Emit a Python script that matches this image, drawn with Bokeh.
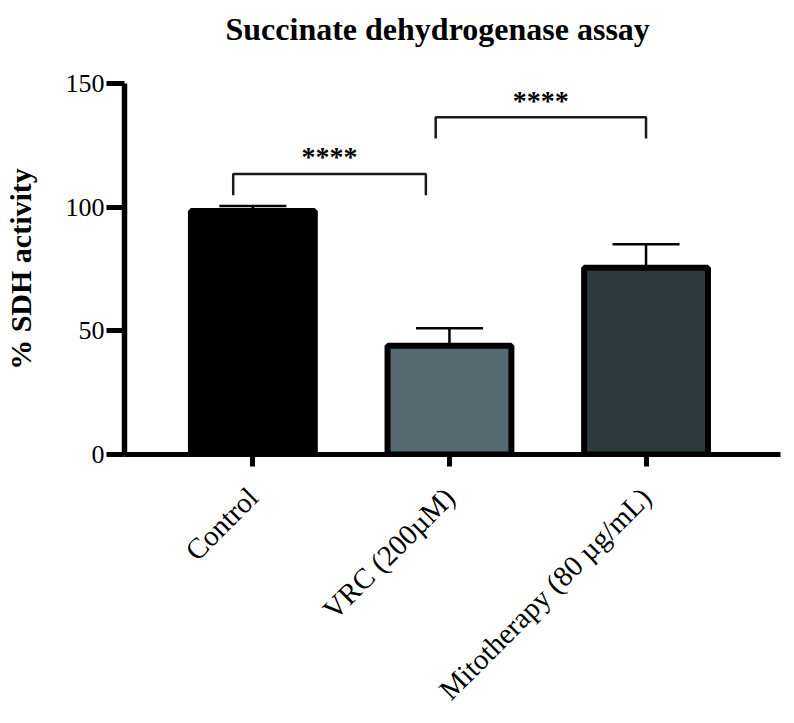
import math
from bokeh.plotting import figure
from bokeh.models import (ColumnDataSource, Range1d, FixedTicker, Whisker, TeeHead,
                          LinearAxis)
from bokeh.core.properties import value
from bokeh.embed import file_html
from bokeh.resources import INLINE

# ---- data ----
title_text = "Succinate dehydrogenase assay"
categories = ["Control", "VRC (200µM)", "Mitotherapy (80 µg/mL)"]
means = [98.5, 44.0, 75.5]
sems = [2.0, 7.0, 9.5]
bar_colors = ["#000000", "#566870", "#2e3b3c"]
y_ticks = [0, 50, 100, 150]

# significance brackets (data coordinates)
cmp_x0 = [-0.10, 0.93]
cmp_x1 = [0.88, 2.0]
cmp_top = [113.4, 136.4]
cmp_leg = [104.8, 127.8]
cmp_text = ["****", "****"]
cmp_text_y = [121.4, 144.0]

FONT = "Liberation Serif"

xs_idx = list(range(len(categories)))
src = ColumnDataSource(dict(
    x=xs_idx, mean=means, upper=[m + s for m, s in zip(means, sems)], color=bar_colors,
))

p = figure(width=794, height=723, output_backend="svg", toolbar_location=None,
           x_range=Range1d(-0.653, 2.684), y_range=Range1d(0, 150),
           min_border_left=121, min_border_right=14, min_border_top=83, min_border_bottom=269,
           title=title_text)
p.outline_line_color = None
p.grid.visible = False
p.background_fill_color = "white"

xa = p.below[0]
ya = p.left[0]

# invisible spacer between frame and title (pushes the title upward)
spacer = LinearAxis(ticker=FixedTicker(ticks=[xs_idx[0]]), axis_line_color=None,
                    major_tick_line_alpha=0, minor_tick_line_color=None,
                    major_tick_out=32, major_tick_in=0, minor_tick_out=0,
                    major_label_overrides={xs_idx[0]: ""}, major_label_standoff=0,
                    major_label_text_font_size="1px")
p.add_layout(spacer, "above")

p.title.text_font = FONT
p.title.text_font_size = "32px"
p.title.text_font_style = "bold"
p.title.align = "left"
p.title.offset = 101
p.title.standoff = 10
p.title.text_color = "black"

p.vbar(x="x", top="mean", width=0.63, bottom=0, fill_color="color",
       line_color="black", line_width=6, source=src)

wh = Whisker(base="x", lower="mean", upper="upper", source=src, dimension="height",
             line_color="black", line_width=2.5, lower_head=None,
             upper_head=TeeHead(size=67, line_color="black", line_width=2.5))
p.add_layout(wh)

bx = [[a, a, b, b] for a, b in zip(cmp_x0, cmp_x1)]
by = [[l, t, t, l] for t, l in zip(cmp_top, cmp_leg)]
p.multi_line(xs=bx, ys=by, line_color="#1a1a1a", line_width=2.5)
p.text(x=[(a + b) / 2 for a, b in zip(cmp_x0, cmp_x1)], y=cmp_text_y, text=cmp_text,
       text_font=value(FONT), text_font_style="bold", text_font_size="28px",
       text_align="center", text_baseline="middle", text_color="black", y_offset=2)

# x axis
xa.ticker = FixedTicker(ticks=xs_idx)
xa.major_label_overrides = {i: c for i, c in zip(xs_idx, categories)}
xa.axis_line_width = 5
xa.major_tick_line_width = 5
xa.major_tick_out = 12
xa.major_tick_in = 0
xa.minor_tick_line_color = None
xa.major_label_orientation = math.pi / 4
xa.major_label_text_font = FONT
xa.major_label_text_font_size = "29px"
xa.major_label_text_color = "black"
xa.major_label_standoff = 26

# y axis
ya.ticker = FixedTicker(ticks=y_ticks)
ya.axis_line_width = 5.5
ya.major_tick_line_width = 5
ya.major_tick_out = 18
ya.major_tick_in = 0
ya.minor_tick_line_color = None
ya.major_label_standoff = 2
ya.major_label_text_font = FONT
ya.major_label_text_font_size = "26px"
ya.major_label_text_color = "black"
ya.axis_label = "% SDH activity"
ya.axis_label_text_font = FONT
ya.axis_label_text_font_size = "30px"
ya.axis_label_text_font_style = "bold"
ya.axis_label_text_color = "black"
ya.axis_label_standoff = 26

open("out.html", "w").write(file_html(p, INLINE))
